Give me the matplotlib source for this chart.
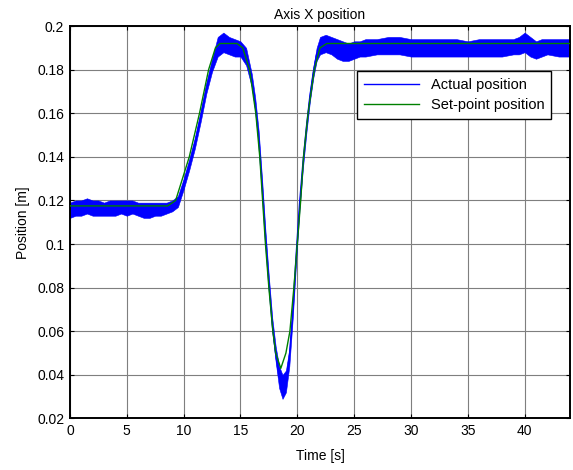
#!/usr/bin/env python3
"""Axis X position: actual vs set-point (MATLAB-style figure)."""

import matplotlib

matplotlib.use("Agg")
import matplotlib.pyplot as plt

# --- set-point trajectory [s], [m] ---
t_set = [0, 8.6, 9.3, 9.9, 10.5, 11.4, 12.2, 12.8, 13.2, 14.7, 15.2, 15.8,
         16.35, 16.7, 16.95, 17.2, 17.5, 17.85, 18.1, 18.55, 19.0, 19.35,
         19.7, 20.0, 20.3, 20.55, 20.95, 21.5, 22.0, 22.6, 44]
pos_set = [0.1175, 0.1175, 0.120, 0.130, 0.140, 0.160, 0.180, 0.190, 0.192,
           0.192, 0.190, 0.180, 0.160, 0.140, 0.120, 0.100, 0.080, 0.060,
           0.050, 0.043, 0.050, 0.060, 0.080, 0.100, 0.120, 0.140, 0.160,
           0.180, 0.190, 0.192, 0.192]

# --- actual position: oscillation band (lower / upper envelope) ---
t_act = [0, 0.5, 1, 1.5, 2, 2.5, 3, 3.5, 4, 4.5, 5, 5.5, 6, 6.5, 7, 7.5, 8,
         8.5, 9, 9.5, 10, 10.5, 11, 11.5, 12, 12.5, 13, 13.5, 14, 14.5, 15,
         15.5, 16, 16.3, 16.6, 16.9, 17.2, 17.5, 17.8, 18.1, 18.4, 18.7, 19.0,
         19.3, 19.6, 19.9, 20.2, 20.5, 20.8, 21.1, 21.4, 21.7, 22, 22.5, 23,
         23.5, 24, 24.5, 25, 25.5, 26, 27, 28, 29, 30, 31, 32, 33, 34, 35, 36,
         37, 38, 39, 39.5, 40, 40.5, 41, 41.5, 42, 43, 44]
act_lo = [0.112, 0.113, 0.113, 0.114, 0.113, 0.113, 0.113, 0.113, 0.113,
          0.114, 0.113, 0.114, 0.113, 0.112, 0.112, 0.113, 0.113, 0.114,
          0.115, 0.117, 0.125, 0.134, 0.144, 0.156, 0.169, 0.179, 0.186,
          0.188, 0.187, 0.186, 0.186, 0.182, 0.172, 0.161, 0.146, 0.124,
          0.100, 0.079, 0.060, 0.046, 0.034, 0.029, 0.032, 0.044, 0.066,
          0.092, 0.116, 0.135, 0.151, 0.165, 0.176, 0.184, 0.187, 0.188,
          0.187, 0.185, 0.184, 0.184, 0.185, 0.186, 0.186, 0.187, 0.187,
          0.187, 0.186, 0.186, 0.186, 0.186, 0.186, 0.186, 0.186, 0.186,
          0.186, 0.187, 0.187, 0.188, 0.186, 0.185, 0.186, 0.187, 0.186, 0.186]
act_hi = [0.119, 0.120, 0.120, 0.121, 0.120, 0.120, 0.119, 0.120, 0.120,
          0.120, 0.120, 0.120, 0.119, 0.119, 0.119, 0.119, 0.119, 0.119,
          0.120, 0.122, 0.130, 0.139, 0.149, 0.161, 0.174, 0.185, 0.195,
          0.197, 0.195, 0.194, 0.193, 0.190, 0.178, 0.167, 0.152, 0.130,
          0.106, 0.085, 0.066, 0.053, 0.044, 0.040, 0.042, 0.052, 0.072,
          0.098, 0.121, 0.140, 0.156, 0.170, 0.181, 0.190, 0.195, 0.196,
          0.195, 0.194, 0.193, 0.192, 0.193, 0.193, 0.194, 0.194, 0.195,
          0.195, 0.194, 0.194, 0.194, 0.194, 0.194, 0.193, 0.194, 0.194,
          0.194, 0.194, 0.195, 0.197, 0.195, 0.193, 0.194, 0.194, 0.194, 0.194]

x_ticks = [0, 5, 10, 15, 20, 25, 30, 35, 40]
y_ticks = [0.02, 0.04, 0.06, 0.08, 0.1, 0.12, 0.14, 0.16, 0.18, 0.2]
y_tick_labels = ["0.02", "0.04", "0.06", "0.08", "0.1", "0.12", "0.14",
                 "0.16", "0.18", "0.2"]

plt.rcParams["font.family"] = ["Liberation Sans", "DejaVu Sans"]
plt.rcParams["font.size"] = 10

fig = plt.figure(figsize=(5.73, 4.70), dpi=100)
ax = fig.add_axes([0.122, 0.1096, 0.873, 0.835])

act_mid = [(lo + hi) / 2 for lo, hi in zip(act_lo, act_hi)]
ax.fill_between(t_act, act_lo, act_hi, color="#0000ff", linewidth=0.4,
                edgecolor="#0000ff", zorder=2)
ax.plot(t_act, act_mid, color="#0000ff", linewidth=1.0, zorder=2,
        label="Actual position")
ax.plot(t_set, pos_set, color="#008000", linewidth=1.0, zorder=3,
        label="Set-point position")

ax.set_xlim(0, 44)
ax.set_ylim(0.02, 0.2)
ax.set_xticks(x_ticks)
ax.set_yticks(y_ticks)
ax.set_yticklabels(y_tick_labels)
ax.grid(True, color="#7f7f7f", linewidth=0.8, linestyle="-")
ax.set_axisbelow(True)
ax.tick_params(direction="in", length=3, width=0.8, top=True, right=True,
               labelsize=10, pad=4)
for spine in ax.spines.values():
    spine.set_linewidth(1.4)
    spine.set_color("black")

ax.set_title("Axis X position", fontsize=10, pad=5)
ax.set_xlabel("Time [s]", fontsize=10, labelpad=8)
ax.set_ylabel("Position [m]", fontsize=10, labelpad=5)

leg = ax.legend(loc="upper left", bbox_to_anchor=(0.574, 0.885),
                fancybox=False, framealpha=1, edgecolor="black",
                handlelength=3.8, borderpad=0.45, labelspacing=0.45,
                fontsize=10.5, borderaxespad=0)
leg.get_frame().set_linewidth(1.0)

fig.savefig("out.png", dpi=100, facecolor="white")
